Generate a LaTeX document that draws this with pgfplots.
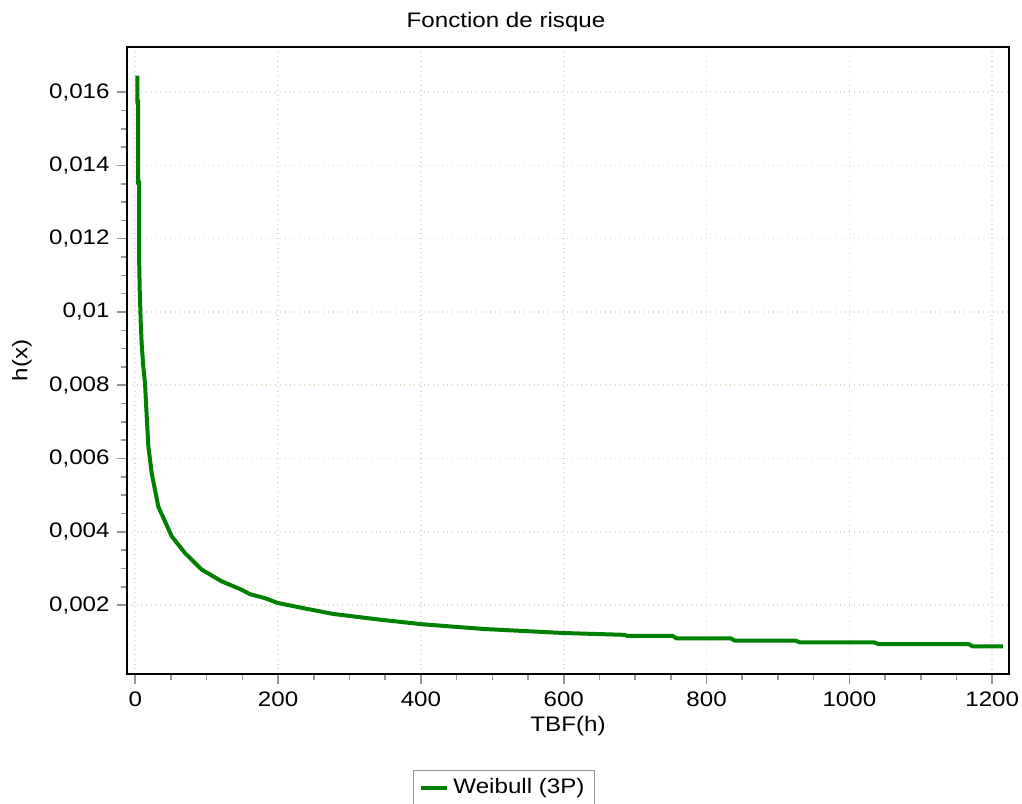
\documentclass[border=0pt]{standalone}
\usepackage{pgfplots}
\pgfplotsset{compat=1.18}
\usepackage{fontspec}
\setmainfont{Liberation Sans}[FakeStretch=1.15]

\definecolor{curve}{RGB}{0,128,0}
\definecolor{gridc}{RGB}{222,218,196}
\definecolor{tickc}{RGB}{150,150,140}

\begin{document}
\fontsize{10.5bp}{12bp}\selectfont
\begin{tikzpicture}
\begin{axis}[
    scale only axis,
    width=441bp, height=313.5bp,
    xmin=-11.6, xmax=1223.6,
    ymin=0.00012, ymax=0.01723,
    xtick={0,200,...,1200},
    ytick={0.002,0.004,...,0.0161},
    minor x tick num=3,
    minor y tick num=3,
    tick align=outside,
    xtick pos=bottom, ytick pos=left,
    major tick length=5bp, minor tick length=3bp,
    every tick/.style={tickc, line width=0.8pt},
    axis line style={black, line width=1.2pt},
    xmajorgrids, ymajorgrids,
    grid style={gridc, dotted, line width=0.8pt},
    scaled y ticks=false,
    /pgf/number format/assume math mode=true,
    yticklabel style={/pgf/number format/.cd, fixed, precision=3, use comma},
    xticklabel style={/pgf/number format/.cd, 1000 sep={}},
    tick label style={font=\fontsize{10.5bp}{12bp}\selectfont},
    title={Fonction de risque},
    every axis title/.style={at={(rel axis cs:0.4297,1.04)}, anchor=center, font=\fontsize{10.5bp}{12bp}\selectfont},
    xlabel={TBF(h)},
    every axis x label/.style={at={(rel axis cs:0.5,-0.0829)}, anchor=center},
    ylabel={h(x)},
    every axis y label/.style={at={(rel axis cs:-0.119,0.5)}, anchor=center, rotate=90},
    legend style={at={(rel axis cs:0.4274,-0.153)}, anchor=north, draw=tickc,
        font=\fontsize{10.5bp}{12bp}\selectfont, inner xsep=3bp, inner ysep=2bp},
    legend image code/.code={\draw[#1] (0bp,0bp) -- (13bp,0bp);},
]
\addplot[curve, line width=2bp] coordinates {
(2.8,0.01645) (2.8,0.01574) (3.8,0.01574) (3.8,0.01353) (5.2,0.01353)
(5.2,0.01162) (6.2,0.01060) (7.6,0.00973) (9.0,0.00911)
(11.2,0.00851) (13.6,0.00806) (16.0,0.00715) (18.3,0.00633)
(23.0,0.00560) (32.2,0.00469) (51.0,0.00388) (69.6,0.00342)
(93.0,0.00297) (121.0,0.00265) (149.0,0.00242) (160.6,0.00230)
(181.7,0.00219) (199.4,0.00206) (240,0.00190) (277.3,0.00176)
(340,0.00161) (401.1,0.00148) (487.7,0.00135) (599.6,0.00124)
(685,0.00119) (688.2,0.001165) (752,0.001165) (758.3,0.001091)
(834,0.001091) (839.9,0.001029) (925,0.001029) (930.9,0.000982)
(1035,0.000982) (1040.6,0.000939) (1167,0.000939) (1172.8,0.000873)
(1214.8,0.000873)
};
\addlegendentry{Weibull (3P)}
\coordinate (bl) at (rel axis cs:-0.144,-0.2057);
\coordinate (tr) at (rel axis cs:1.0147,1.075);
\end{axis}
\pgfresetboundingbox
\useasboundingbox (bl) rectangle (tr);
\end{tikzpicture}
\end{document}
